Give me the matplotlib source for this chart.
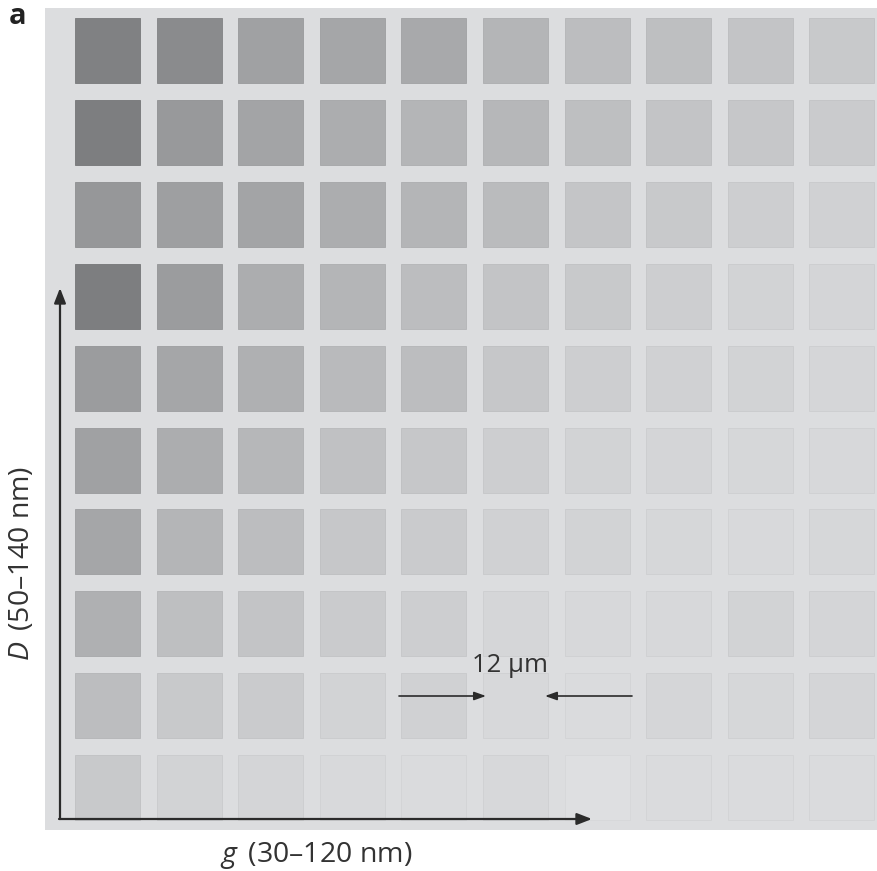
import matplotlib.pyplot as plt
from matplotlib.patches import Rectangle
import numpy as np

# grey level of each square, rows top->bottom, columns left->right
grey_rows = [
    [128, 138, 160, 165, 168, 180, 188, 190, 195, 200],
    [125, 152, 163, 172, 180, 182, 190, 195, 198, 202],
    [150, 158, 163, 172, 180, 186, 196, 200, 205, 208],
    [125, 155, 172, 180, 188, 195, 200, 205, 210, 212],
    [155, 165, 175, 185, 188, 198, 205, 208, 210, 213],
    [160, 172, 182, 192, 198, 205, 210, 212, 214, 215],
    [165, 180, 188, 198, 202, 208, 210, 214, 216, 214],
    [175, 190, 195, 202, 205, 213, 215, 215, 210, 212],
    [188, 200, 202, 210, 208, 215, 218, 213, 214, 212],
    [200, 210, 212, 216, 218, 215, 222, 218, 218, 218],
]
g_label = "$g\\,$ (30\u2013120 nm)"
d_label = "$D\\,$ (50\u2013140 nm)"
scale_label = "12 \u00b5m"

plt.rcParams['mathtext.fontset'] = 'custom'
plt.rcParams['mathtext.it'] = 'Open Sans:italic'
plt.rcParams['mathtext.rm'] = 'Open Sans'

W, H = 877, 871
fig = plt.figure(figsize=(W / 100, H / 100), dpi=100)
ax = fig.add_axes([0, 0, 1, 1])
ax.set_xlim(0, W)
ax.set_ylim(H, 0)
ax.axis('off')

bg = (220 / 255, 221 / 255, 223 / 255)
ax.add_patch(Rectangle((45, 8), W - 45, 822, facecolor=bg, edgecolor='none'))

x0, y0 = 75, 18
pitch_x, pitch_y = 81.6, 81.9
size = 65

grey = np.array(grey_rows)
for i in range(grey.shape[0]):
    for j in range(grey.shape[1]):
        v = grey[i, j]
        fc = (v / 255, min(v + 1, 255) / 255, min(v + 3, 255) / 255)
        ec = (max(v - 8, 0) / 255, max(v - 7, 0) / 255, max(v - 5, 0) / 255)
        ax.add_patch(Rectangle((x0 + j * pitch_x, y0 + i * pitch_y), size, size,
                               facecolor=fc, edgecolor=ec, linewidth=0.6))

# axis arrows
ak = dict(arrowstyle='-|>,head_length=0.9,head_width=0.35', color='#2b2b2b',
          lw=1.6, shrinkA=0, shrinkB=0)
ax.annotate('', xy=(60, 288), xytext=(60, 819), arrowprops=ak)
ax.annotate('', xy=(592, 819), xytext=(59, 819), arrowprops=ak)

# scale arrows
sk = dict(arrowstyle='-|>,head_length=0.7,head_width=0.25', color='#2b2b2b',
          lw=1.2, shrinkA=0, shrinkB=0)
ax.annotate('', xy=(486, 696), xytext=(399, 696), arrowprops=sk)
ax.annotate('', xy=(545, 696), xytext=(632, 696), arrowprops=sk)

fam = ['Open Sans', 'DejaVu Sans']
ax.text(510, 665, scale_label, fontsize=18.5, ha='center', va='center',
        family=fam, color='#333333')
ax.text(316, 855, g_label, fontsize=20.5, ha='center', va='center',
        family=fam, color='#333333')
ax.text(22, 563, d_label, fontsize=20.5, ha='center', va='center',
        rotation=90, family=fam, color='#333333')
ax.text(9, 16, 'a', fontsize=21, ha='left', va='center', fontweight='bold',
        family=fam, color='#222222')

plt.savefig('out.png', dpi=100)
